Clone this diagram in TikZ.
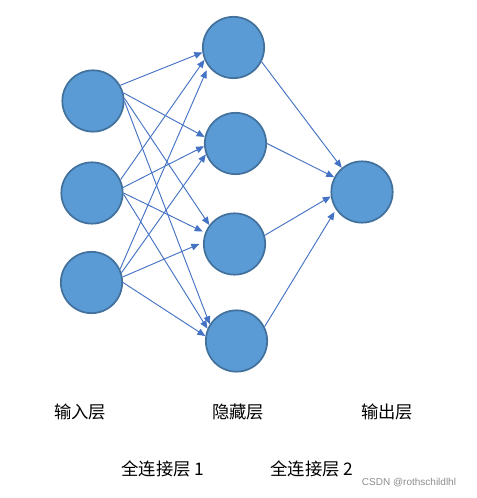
\documentclass[tikz,border=0pt]{standalone}
\usepackage{fontspec}
\newfontfamily\cjk{Noto Sans CJK SC}
\usetikzlibrary{arrows.meta}
\definecolor{nodefill}{HTML}{5B9BD5}
\definecolor{nodeline}{HTML}{41719C}
\definecolor{edgecol}{HTML}{4472C4}
\tikzset{
  neuron/.style={circle, fill=nodefill, draw=nodeline, line width=1.3pt, minimum size=46pt, inner sep=0pt},
  conn/.style={draw=edgecol, line width=0.7pt, -{Triangle[length=6pt,width=5pt]}},
  lbl/.style={font=\cjk\fontsize{13}{15}\selectfont, inner sep=0pt},
  wm/.style={font=\fontspec{Liberation Sans}\fontsize{7.5}{9}\selectfont, text=black!45, inner sep=0pt}
}
\begin{document}
\begin{tikzpicture}[x=0.75pt,y=-0.75pt]
\useasboundingbox (0,0) rectangle (476,498);
\node[neuron] (i1) at (93,101) {};
\node[neuron] (i2) at (92,193) {};
\node[neuron] (i3) at (91.5,282.5) {};
\node[neuron] (h1) at (233.5,47.5) {};
\node[neuron] (h2) at (235.5,143.5) {};
\node[neuron] (h3) at (234.5,244) {};
\node[neuron] (h4) at (236.5,341) {};
\node[neuron] (o) at (362,192) {};
% input -> hidden
\draw[conn] (i1.30) -- (h1.189);
\draw[conn] (i2.25) -- (h1.203);
\draw[conn, shorten >=3pt] (i3.25) -- (h1.217);
\draw[conn] (i1.15) -- (h2.168);
\draw[conn] (i2.10) -- (h2.185);
\draw[conn] (i3.18) -- (h2.200);
\draw[conn] (i1.5) -- (h3.143);
\draw[conn, shorten >=2pt] (i2.0) -- (h3.159);
\draw[conn, shorten >=3pt] (i3.10) -- (h3.177);
\draw[conn] (i1.-1) -- (h4.148);
\draw[conn] (i2.-2) -- (h4.157);
\draw[conn] (i3.0) -- (h4.171);
% hidden -> output
\draw[conn] (h1.-27) -- (o.130);
\draw[conn] (h2.0) -- (o.152);
\draw[conn] (h3.16) -- (o.188);
\draw[conn, shorten >=2pt] (h4.27) -- (o.214);
\node[lbl] (t1) at (80,412) {输入层};
\node[lbl] (t2) at (238,412) {隐藏层};
\node[lbl] (t3) at (387,412) {输出层};
\node[lbl] (t4) at (163,469) {全连接层 1};
\node[lbl] (t5) at (312,469) {全连接层 2};
\node[wm] (w) at (409,483) {CSDN @rothschildlhl};
\end{tikzpicture}
\end{document}
